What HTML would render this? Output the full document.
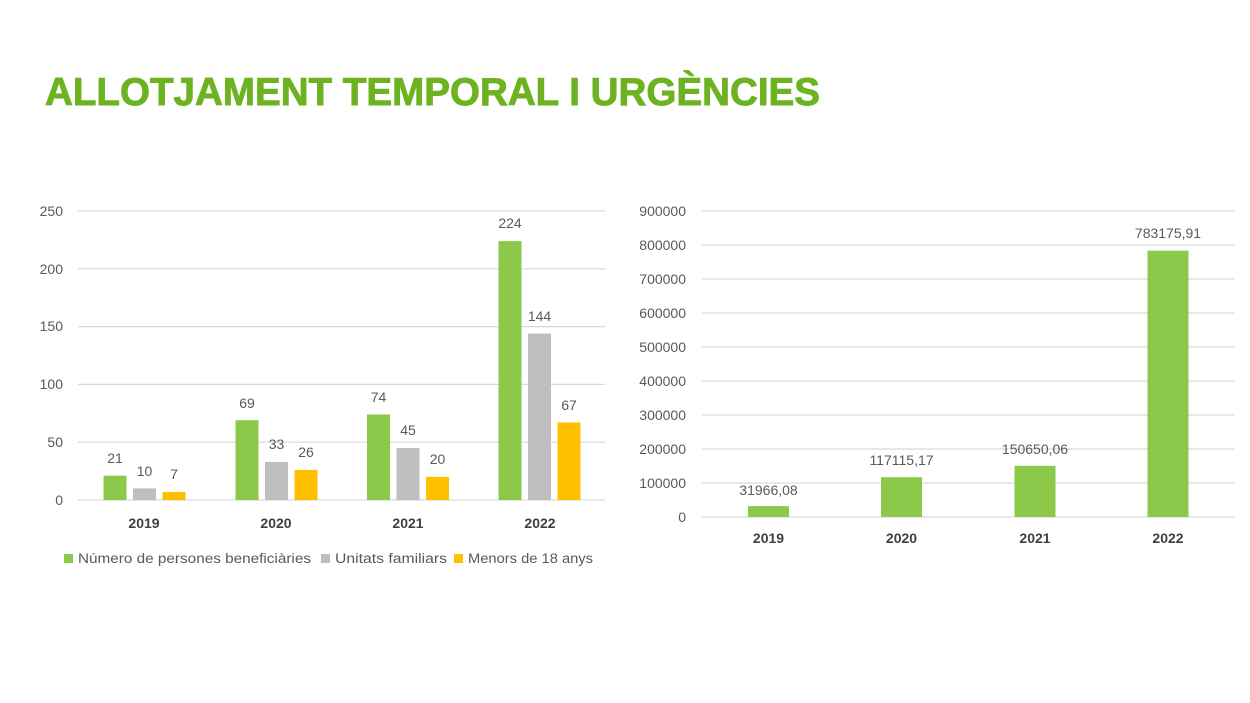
<!DOCTYPE html>
<html><head><meta charset="utf-8"><style>
html,body{margin:0;padding:0;background:#fff;}
svg{display:block;}
text{font-family:"Liberation Sans",sans-serif;}
</style></head><body>
<svg width="1250" height="703" viewBox="0 0 1250 703" xmlns="http://www.w3.org/2000/svg">
<rect width="1250" height="703" fill="#fff"/>
<text x="45" y="105" font-size="39" font-weight="bold" fill="#6db321" stroke="#6db321" stroke-width="0.9" textLength="775" lengthAdjust="spacingAndGlyphs">ALLOTJAMENT TEMPORAL I URGÈNCIES</text>

<!-- LEFT CHART -->
<g stroke="#d9d9d9" stroke-width="1.2">
<line x1="78" y1="211" x2="605" y2="211"/>
<line x1="78" y1="268.8" x2="605" y2="268.8"/>
<line x1="78" y1="326.6" x2="605" y2="326.6"/>
<line x1="78" y1="384.4" x2="605" y2="384.4"/>
<line x1="78" y1="442.2" x2="605" y2="442.2"/>
<line x1="78" y1="500" x2="605" y2="500"/>
</g>
<g font-size="14" fill="#595959" text-anchor="end">
<text x="63" y="216">250</text>
<text x="63" y="274">200</text>
<text x="63" y="331">150</text>
<text x="63" y="389">100</text>
<text x="63" y="447">50</text>
<text x="63" y="505">0</text>
</g>
<g fill="#8cc94b">
<rect x="103.5" y="475.7" width="23" height="24.3"/>
<rect x="235.5" y="420.2" width="23" height="79.8"/>
<rect x="367" y="414.5" width="23" height="85.5"/>
<rect x="498.5" y="241.1" width="23" height="258.9"/>
</g>
<g fill="#bfbfbf">
<rect x="133" y="488.4" width="23" height="11.6"/>
<rect x="265" y="461.9" width="23" height="38.1"/>
<rect x="396.5" y="448" width="23" height="52"/>
<rect x="528" y="333.5" width="23" height="166.5"/>
</g>
<g fill="#ffc000">
<rect x="162.5" y="491.9" width="23" height="8.1"/>
<rect x="294.5" y="469.9" width="23" height="30.1"/>
<rect x="426" y="476.9" width="23" height="23.1"/>
<rect x="557.5" y="422.5" width="23" height="77.5"/>
</g>
<g font-size="14" fill="#595959" text-anchor="middle">
<text x="115" y="463">21</text>
<text x="144.5" y="476">10</text>
<text x="174" y="479">7</text>
<text x="247" y="408">69</text>
<text x="276.5" y="449">33</text>
<text x="306" y="457">26</text>
<text x="378.5" y="402">74</text>
<text x="408" y="435">45</text>
<text x="437.5" y="464">20</text>
<text x="510" y="228">224</text>
<text x="539.5" y="321">144</text>
<text x="569" y="410">67</text>
</g>
<g font-size="14" font-weight="bold" fill="#404040" text-anchor="middle">
<text x="144" y="528">2019</text>
<text x="276" y="528">2020</text>
<text x="408" y="528">2021</text>
<text x="540" y="528">2022</text>
</g>
<rect x="64" y="554" width="9" height="9" fill="#8cc94b"/>
<text x="78" y="563" font-size="13.5" fill="#595959" textLength="233" lengthAdjust="spacingAndGlyphs">Número de persones beneficiàries</text>
<rect x="321" y="554" width="9" height="9" fill="#bfbfbf"/>
<text x="335" y="563" font-size="13.5" fill="#595959" textLength="112" lengthAdjust="spacingAndGlyphs">Unitats familiars</text>
<rect x="454" y="554" width="9" height="9" fill="#ffc000"/>
<text x="468" y="563" font-size="13.5" fill="#595959" textLength="125" lengthAdjust="spacingAndGlyphs">Menors de 18 anys</text>

<!-- RIGHT CHART -->
<g stroke="#d9d9d9" stroke-width="1.2">
<line x1="702" y1="211" x2="1235" y2="211"/>
<line x1="702" y1="245" x2="1235" y2="245"/>
<line x1="702" y1="279" x2="1235" y2="279"/>
<line x1="702" y1="313" x2="1235" y2="313"/>
<line x1="702" y1="347" x2="1235" y2="347"/>
<line x1="702" y1="381" x2="1235" y2="381"/>
<line x1="702" y1="415" x2="1235" y2="415"/>
<line x1="702" y1="449" x2="1235" y2="449"/>
<line x1="702" y1="483" x2="1235" y2="483"/>
<line x1="702" y1="517" x2="1235" y2="517"/>
</g>
<g font-size="14" fill="#595959" text-anchor="end">
<text x="686" y="216">900000</text>
<text x="686" y="250">800000</text>
<text x="686" y="284">700000</text>
<text x="686" y="318">600000</text>
<text x="686" y="352">500000</text>
<text x="686" y="386">400000</text>
<text x="686" y="420">300000</text>
<text x="686" y="454">200000</text>
<text x="686" y="488">100000</text>
<text x="686" y="522">0</text>
</g>
<g fill="#8cc94b">
<rect x="748" y="506.1" width="41" height="10.9"/>
<rect x="881" y="477.2" width="41" height="39.8"/>
<rect x="1014.5" y="465.8" width="41" height="51.2"/>
<rect x="1147.5" y="250.7" width="41" height="266.3"/>
</g>
<g font-size="14" fill="#595959" text-anchor="middle">
<text x="768.5" y="495">31966,08</text>
<text x="901.5" y="465">117115,17</text>
<text x="1035" y="454">150650,06</text>
<text x="1168" y="238">783175,91</text>
</g>
<g font-size="14" font-weight="bold" fill="#404040" text-anchor="middle">
<text x="768.5" y="543">2019</text>
<text x="901.5" y="543">2020</text>
<text x="1035" y="543">2021</text>
<text x="1168" y="543">2022</text>
</g>
</svg>
</body></html>
